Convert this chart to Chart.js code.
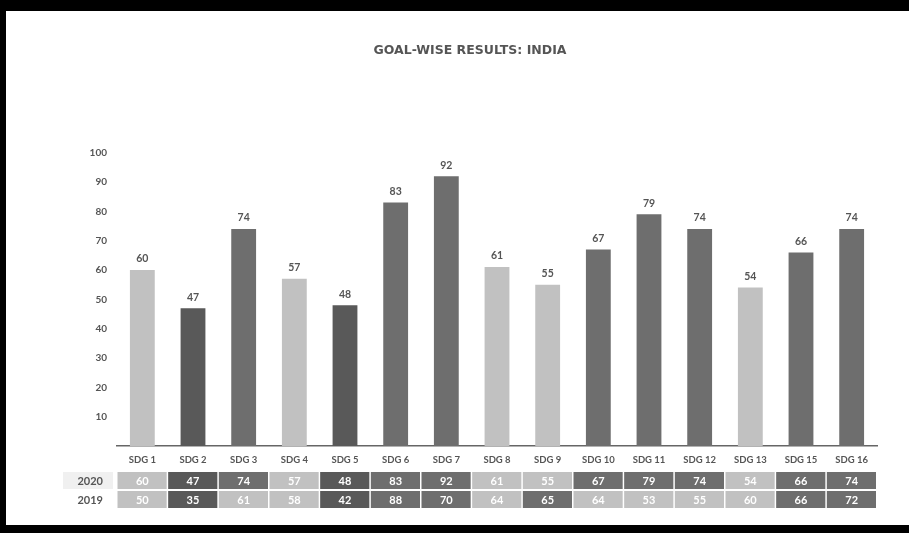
<!DOCTYPE html>
<html><head><meta charset="utf-8">
<script src="https://cdn.jsdelivr.net/npm/chart.js@4/dist/chart.umd.min.js"></script>
<style>html,body{margin:0;padding:0;background:#fff;overflow:hidden;}#wrap{width:909px;height:533px;}</style>
</head><body><div id="wrap"><canvas id="c" width="909" height="533"></canvas></div>
<script>
const chartTitle = 'GOAL-WISE RESULTS: INDIA';
const categories = ['SDG 1','SDG 2','SDG 3','SDG 4','SDG 5','SDG 6','SDG 7','SDG 8','SDG 9','SDG 10','SDG 11','SDG 12','SDG 13','SDG 15','SDG 16'];
const values2020 = [60,47,74,57,48,83,92,61,55,67,79,74,54,66,74];
const values2019 = [50,35,61,58,42,88,70,64,65,64,53,55,60,66,72];
const tableYears = ['2020','2019'];
const yTickValues = [10,20,30,40,50,60,70,80,90,100];

const C_DARK = '#595959', C_LIGHT = '#c1c1c1', C_MED = '#6e6e6e';
function bandColor(v){ if (v < 50) return C_DARK; if (v < 65) return C_LIGHT; return C_MED; }

const framePlugin = {
  id: 'frame',
  beforeDraw(chart){
    const ctx = chart.ctx;
    ctx.save();
    ctx.fillStyle = '#fff';
    ctx.fillRect(0,0,chart.width,chart.height);
    ctx.fillStyle = '#000';
    ctx.fillRect(0,0,chart.width,11);
    ctx.fillRect(0,0,6,chart.height);
    ctx.fillRect(0,525,chart.width,chart.height-525);
    ctx.fillStyle = '#555';
    ctx.font = 'bold 12.5px "DejaVu Sans"';
    ctx.textAlign = 'center';
    ctx.textBaseline = 'middle';
    ctx.fillText(chartTitle, 470, 51);
    ctx.restore();
  }
};

const labelPlugin = {
  id: 'barLabels',
  afterDatasetsDraw(chart){
    const ctx = chart.ctx;
    const meta = chart.getDatasetMeta(0);
    ctx.save();
    ctx.fillStyle = '#555';
    ctx.font = 'bold 10.5px Lato';
    ctx.textAlign = 'center';
    ctx.textBaseline = 'middle';
    meta.data.forEach((bar, i) => {
      ctx.fillText(String(values2020[i]), bar.x, bar.y - 11);
    });
    ctx.restore();
  }
};

const tablePlugin = {
  id: 'dataTable',
  afterDraw(chart){
    const ctx = chart.ctx;
    const xs = chart.scales.x;
    const w = xs.width / categories.length;
    const rows = [values2020, values2019];
    const rowTop = [472, 491];
    const rowH = 17;
    ctx.save();
    // row label background for first row
    ctx.fillStyle = '#f0f0f0';
    ctx.fillRect(63, rowTop[0], 50, rowH);
    ctx.textBaseline = 'middle';
    rows.forEach((vals, r) => {
      ctx.fillStyle = '#555';
      ctx.font = 'bold 11px Lato';
      ctx.textAlign = 'right';
      ctx.fillText(tableYears[r], 103, rowTop[r] + rowH/2 + 0.5);
      vals.forEach((v, i) => {
        const cx = xs.getPixelForValue(i);
        ctx.fillStyle = bandColor(v);
        ctx.fillRect(cx - w/2 + 0.5, rowTop[r], w - 1.5, rowH);
        ctx.fillStyle = '#fff';
        ctx.font = 'bold 11px Lato';
        ctx.textAlign = 'center';
        ctx.fillText(String(v), cx, rowTop[r] + rowH/2 + 0.5);
      });
    });
    ctx.restore();
  }
};

new Chart(document.getElementById('c'), {
  type: 'bar',
  data: {
    labels: categories,
    datasets: [{
      label: '2020',
      data: values2020,
      backgroundColor: values2020.map(bandColor),
      borderWidth: 0,
      barPercentage: 0.49,
      categoryPercentage: 1
    }]
  },
  options: {
    responsive: false,
    animation: false,
    devicePixelRatio: 1,
    layout: { padding: { top: 152.7, right: 32, bottom: 0, left: 0 } },
    plugins: { legend: { display: false }, tooltip: { enabled: false }, title: { display: false } },
    scales: {
      x: {
        grid: { display: false, drawTicks: false },
        border: { display: true, color: '#666', width: 1.5 },
        ticks: { color: '#555', font: { family: 'Lato', size: 9.5, weight: 'bold' }, padding: 8, maxRotation: 0, autoSkip: false },
        afterFit(s){ s.height = 87; }
      },
      y: {
        min: 0, max: 100,
        grid: { display: false, drawTicks: false },
        border: { display: false },
        afterBuildTicks(s){ s.ticks = yTickValues.map(v => ({ value: v })); },
        ticks: { color: '#555', font: { family: 'Lato', size: 10, weight: 'bold' }, padding: 10 },
        afterFit(s){ s.width = 117; }
      }
    }
  },
  plugins: [framePlugin, labelPlugin, tablePlugin]
});
</script>
</body></html>
